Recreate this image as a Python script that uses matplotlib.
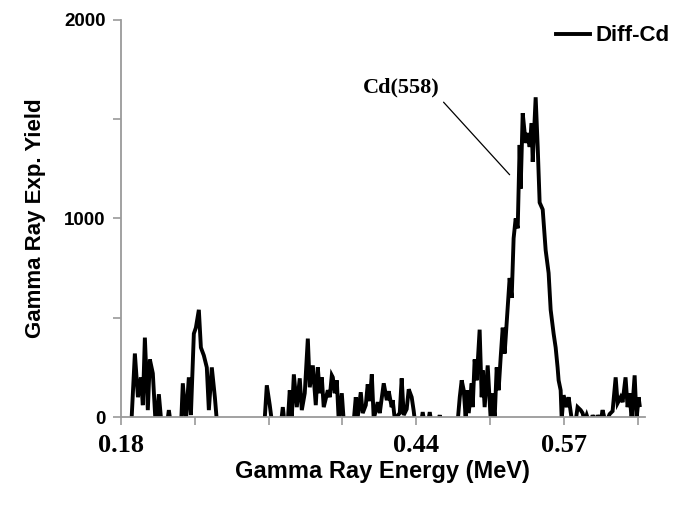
import numpy as np
import matplotlib
matplotlib.use("Agg")
import matplotlib.pyplot as plt

# spectrum (values below 0 are clipped by the axis, giving the gaps)
energy = [
    0.1888, 0.1923, 0.1950, 0.1976, 0.1993, 0.2011, 0.2037, 0.2055, 0.2081, 0.2108,
    0.2134, 0.2161, 0.2205, 0.2222, 0.2240, 0.2328, 0.2345, 0.2372, 0.2398, 0.2416,
    0.2442, 0.2460, 0.2486, 0.2504, 0.2530, 0.2556, 0.2574, 0.2600, 0.2627, 0.2653,
    0.3058, 0.3084, 0.3110, 0.3137, 0.3207, 0.3225, 0.3242, 0.3269, 0.3286, 0.3304,
    0.3322, 0.3348, 0.3374, 0.3392, 0.3418, 0.3445, 0.3462, 0.3489, 0.3515, 0.3533,
    0.3550, 0.3568, 0.3585, 0.3621, 0.3638, 0.3656, 0.3665, 0.3682, 0.3700, 0.3717,
    0.3744, 0.3761, 0.3849, 0.3867, 0.3884, 0.3911, 0.3928, 0.3955, 0.3972, 0.3990,
    0.4008, 0.4025, 0.4060, 0.4078, 0.4113, 0.4140, 0.4157, 0.4183, 0.4192, 0.4210,
    0.4254, 0.4271, 0.4289, 0.4315, 0.4333, 0.4359, 0.4377, 0.4395, 0.4439, 0.4456,
    0.4474, 0.4500, 0.4518, 0.4535, 0.4588, 0.4606, 0.4623, 0.4746, 0.4764, 0.4782,
    0.4799, 0.4817, 0.4834, 0.4843, 0.4861, 0.4887, 0.4896, 0.4913, 0.4931, 0.4957,
    0.4975, 0.4984, 0.5001, 0.5028, 0.5054, 0.5072, 0.5089, 0.5107, 0.5124, 0.5142,
    0.5160, 0.5177, 0.5204, 0.5221, 0.5239, 0.5256, 0.5274, 0.5292, 0.5309, 0.5318,
    0.5336, 0.5362, 0.5380, 0.5397, 0.5415, 0.5424, 0.5450, 0.5468, 0.5485, 0.5512,
    0.5538, 0.5564, 0.5582, 0.5608, 0.5626, 0.5643, 0.5652, 0.5670, 0.5679, 0.5696,
    0.5723, 0.5740, 0.5767, 0.5802, 0.5819, 0.5846, 0.5863, 0.5881, 0.5899, 0.5916,
    0.5943, 0.5951, 0.5969, 0.5987, 0.5995, 0.6013, 0.6022, 0.6039, 0.6057, 0.6083,
    0.6101, 0.6127, 0.6154, 0.6171, 0.6198, 0.6215, 0.6241, 0.6259, 0.6277, 0.6294,
    0.6321, 0.6338, 0.6356, 0.6365,
]
yield_cd = [
    -80, 320, 100, 200, 60, 400, 35, 290, 220, -60,
    115, -60, -40, 35, -40, -60, 170, -20, 200, 10,
    420, 450, 540, 350, 310, 250, 35, 250, 100, -80,
    -80, 160, 60, -60, -40, 50, -40, -20, 135, 0,
    215, 50, 195, 35, 120, 395, 150, 260, 60, 250,
    120, 200, 50, 135, 100, 210, 200, 120, 185, -20,
    120, -20, -20, 100, 0, 125, 20, 60, 165, 80,
    215, -10, 75, 20, 170, 85, 130, 50, 85, -10,
    20, 195, 10, 40, 140, 100, 30, -60, -40, 25,
    -40, -40, 25, -40, -40, 10, -60, -60, -20, 100,
    185, 135, 0, 135, 20, 170, 50, 290, 185, 440,
    100, 235, 50, 260, -10, 120, -10, 250, 135, 300,
    450, 320, 555, 700, 600, 900, 1000, 950, 1370, 1150,
    1530, 1380, 1430, 1360, 1480, 1285, 1610, 1360, 1080, 1045,
    840, 725, 540, 420, 350, 250, 185, 135, -10, 110,
    50, 100, -10, -20, 50, 35, 20, -20, 10, -20,
    -20, 10, -20, -20, 10, -20, -20, 35, -10, -10,
    15, 30, 200, 70, 100, 75, 200, 50, 120, -10,
    210, -10, 100, 60,
]

x_ticks = [0.18, 0.245, 0.31, 0.375, 0.44, 0.505, 0.57, 0.635]
x_labels = ["0.18", "", "", "", "0.44", "", "0.57", ""]
y_ticks = [0, 500, 1000, 1500, 2000]
y_labels = ["0", "", "1000", "", "2000"]

fig = plt.figure(figsize=(6.83, 5.08), dpi=100)
ax = fig.add_axes([0.177, 0.179, 0.767, 0.782])

ax.plot(energy, yield_cd, color="black", lw=2.8, label="Diff-Cd", solid_joinstyle="miter")

ax.set_xlim(0.18, 0.641)
ax.set_ylim(0, 2000)

for s in ["top", "right"]:
    ax.spines[s].set_visible(False)
for s in ["left", "bottom"]:
    ax.spines[s].set_color("#9a9a9a")
    ax.spines[s].set_linewidth(1.3)

ax.set_xticks(x_ticks)
ax.set_xticklabels(x_labels, fontfamily="Liberation Serif", fontweight="bold", fontsize=19)
ax.set_yticks(y_ticks)
ax.set_yticklabels(y_labels, fontfamily="Liberation Sans", fontweight="bold", fontsize=13.5)
ax.tick_params(axis="both", direction="out", length=6, width=1.2, color="#9a9a9a")
ax.tick_params(axis="x", pad=6)
ax.tick_params(axis="y", pad=5)

ax.set_xlabel("Gamma Ray Energy (MeV)", fontfamily="Liberation Sans", fontweight="bold",
              fontsize=17, labelpad=2)
ax.set_ylabel("Gamma Ray Exp. Yield", fontfamily="Liberation Sans", fontweight="bold",
              fontsize=16, labelpad=13)

ax.annotate("Cd(558)", xy=(0.5221, 1220), xytext=(0.4263, 1660),
            ha="center", va="center", fontfamily="Liberation Serif", fontweight="bold",
            fontsize=16,
            arrowprops=dict(arrowstyle="-", color="black", lw=0.9,
                            relpos=(1.0, 0.0), shrinkA=2, shrinkB=0))

leg = ax.legend(loc="upper right", bbox_to_anchor=(0.98, 0.95),
                bbox_transform=fig.transFigure, frameon=False,
                borderpad=0, borderaxespad=0,
                handlelength=1.5, handletextpad=0.25,
                prop=dict(family="Liberation Sans", weight="bold", size=16))

fig.savefig("out.png", dpi=100)
